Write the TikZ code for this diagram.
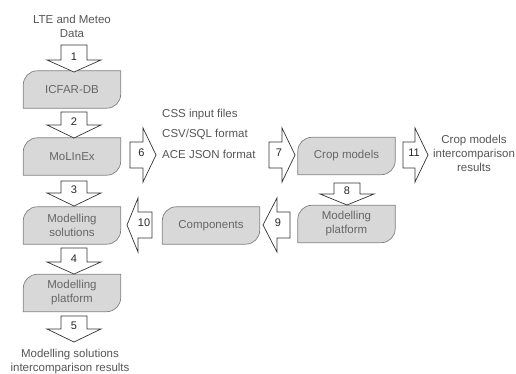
\documentclass[tikz,border=0pt]{standalone}
\usepackage{fontspec}
\setmainfont{Liberation Sans}
\usetikzlibrary{backgrounds}
\definecolor{boxfill}{HTML}{D8D8D8}
\definecolor{boxline}{HTML}{808080}
\definecolor{txtgray}{HTML}{555555}
\definecolor{boxtxt}{HTML}{666666}
\newcommand\darrowshape[5]{%
  \draw[blockarrow] ({#1-13},#2) -- ({#1+13},#2) -- ({#1+13},#3) -- ({#1+27},#3) -- (#1,#4) -- ({#1-27},#3) -- ({#1-13},#3) -- cycle;
  \node[num] (arr#5) at (#1,{#3-3}) {#5};}
\newcommand\harrowshape[6]{%
  \draw[blockarrow] (#2,{#1-13}) -- (#3,{#1-13}) -- (#3,{#1-27}) -- (#4,#1) -- (#3,{#1+27}) -- (#3,{#1+13}) -- (#2,{#1+13}) -- cycle;
  \node[num] (arr#5) at (#6,{#1-2}) {#5};}
\newcommand\boxshape[1]{%
  \draw[boxdraw] (#1.south west) -- ([yshift=-14pt]#1.north west) arc[start angle=180,end angle=90,radius=14pt] -- (#1.north east) -- ([yshift=14pt]#1.south east) arc[start angle=0,end angle=-90,radius=14pt] -- cycle;}
\begin{document}
\begin{tikzpicture}[x=1pt,y=-1pt,
  font=\fontsize{11.5}{14}\selectfont,
  boxnode/.style={rectangle,minimum width=97pt,minimum height=37pt,inner sep=0pt,text=boxtxt,align=center},
  boxdraw/.style={fill=boxfill,draw=boxline,line width=0.7pt},
  blockarrow/.style={fill=white,draw=black!80,line width=0.7pt,line join=miter},
  num/.style={inner sep=0pt,text=black!85,font=\fontsize{11}{13}\selectfont},
  lbl/.style={inner sep=0pt,text=txtgray,align=center}]
\useasboundingbox (0,0) rectangle (516,374);
% boxes
\node[boxnode] (icfar) at (72,89.5) {ICFAR-DB};
\node[boxnode] (molinex) at (72,156.5) {MoLInEx};
\node[boxnode] (modsol) at (72,225.5) {Modelling\\solutions};
\node[boxnode] (modplat) at (72,293) {Modelling\\platform};
\node[boxnode] (crop) at (346.5,156) {Crop models};
\node[boxnode] (modplat2) at (346.5,224) {Modelling\\platform};
\node[boxnode] (comp) at (211,225.5) {Components};
\begin{scope}[on background layer]
\boxshape{icfar}\boxshape{molinex}\boxshape{modsol}\boxshape{modplat}
\boxshape{crop}\boxshape{modplat2}\boxshape{comp}
\end{scope}
% texts
\node[lbl] (lte) at (72,26) {LTE and Meteo\\Data};
\node[lbl] (msres) at (70,361.5) {Modelling solutions\\intercomparison results};
\node[lbl,anchor=west] (css) at (162,115) {CSS input files};
\node[lbl,anchor=west] (csv) at (162,134.5) {CSV/SQL format};
\node[lbl,anchor=west] (ace) at (162,154) {ACE JSON format};
\node[lbl] (cmres) at (474,153) {Crop models\\intercomparison\\results};
% block arrows
\darrowshape{74}{45}{60}{72}{1}
\darrowshape{74}{112}{125}{138}{2}
\darrowshape{74}{181}{193}{206}{3}
\darrowshape{74}{248}{262}{274}{4}
\darrowshape{74}{316}{329}{342}{5}
\darrowshape{347}{183}{194}{205}{8}
\harrowshape{155}{130}{143}{156}{6}{141.5}
\harrowshape{155}{269}{282}{295}{7}{279}
\harrowshape{155}{403}{415}{428}{11}{414}
\harrowshape{225}{290}{277}{263}{9}{278}
\harrowshape{225}{152}{138}{127}{10}{144}
\end{tikzpicture}
\end{document}
